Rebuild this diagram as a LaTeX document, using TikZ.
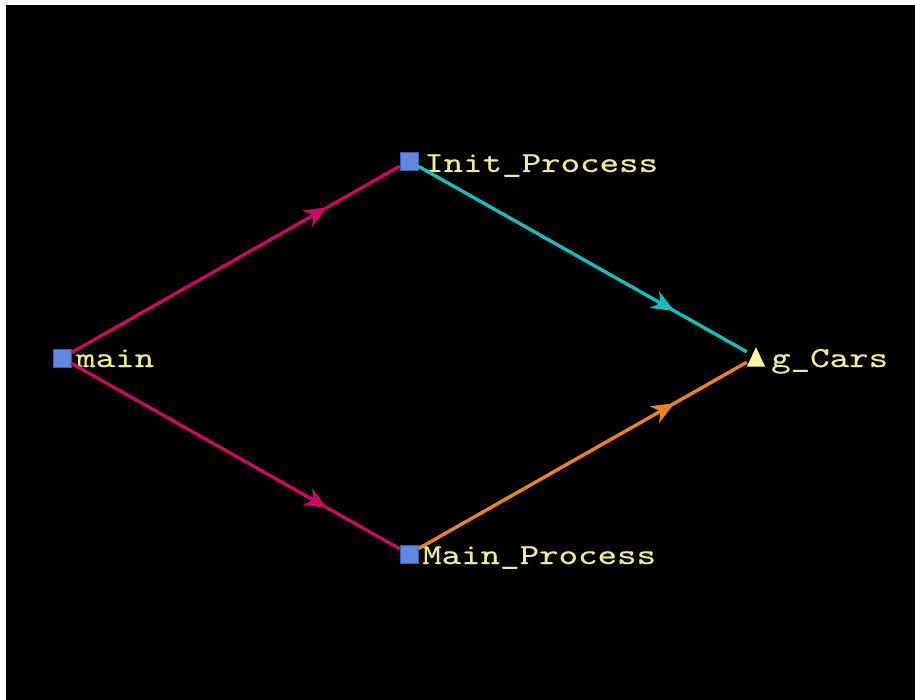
\documentclass[tikz,border=0pt]{standalone}
\usepackage{fontspec}
\newfontfamily\lblfont[FakeBold=0.3]{lmmono10-regular.otf}
\usetikzlibrary{shapes.geometric,arrows.meta,decorations.markings}
\definecolor{bgblack}{RGB}{0,0,0}
\definecolor{sqblue}{RGB}{95,135,230}
\definecolor{txtyel}{RGB}{238,236,150}
\definecolor{edgemag}{RGB}{200,10,100}
\definecolor{edgecyan}{RGB}{30,185,190}
\definecolor{edgeorange}{RGB}{232,130,40}
\definecolor{triyel}{RGB}{250,245,160}
\tikzset{
  sq/.style={rectangle, fill=sqblue, draw=sqblue!70!black, line width=0.5pt, minimum size=18pt, inner sep=0pt},
  trianch/.style={rectangle, minimum width=18pt, minimum height=19pt, inner sep=0pt},
  lbl/.style={anchor=base west, inner sep=0pt, text=txtyel, font=\fontsize{29}{33}\selectfont\lblfont},
  flow/.style={line width=3.4pt, postaction={decorate},
    decoration={markings, mark=at position 0.78 with {\arrow{Stealth[length=23pt,width=19pt,inset=7pt]}}}}
}
\newcommand{\wide}[1]{\scalebox{1.28}[1]{#1}}
\begin{document}
\begin{tikzpicture}[x=1pt,y=-1pt]
\useasboundingbox (0,0) rectangle (915,700);
\fill[white] (0,0) rectangle (915,700);
\fill[bgblack] (6,5) rectangle (915,700);
\node[sq] (main) at (62,358) {};
\node[sq] (init) at (409,161) {};
\node[sq] (mainp) at (409,554) {};
\node[trianch] (gcars) at (756,357) {};
\fill[triyel] (gcars.south west) -- (gcars.south east) -- (gcars.north) -- cycle;
\node[lbl] (lmain) at (76,367) {\wide{main}};
\node[lbl] (linit) at (424,172) {\wide{Init\_Process}};
\node[lbl] (lmainp) at (422,564) {\wide{Main\_Process}};
\node[lbl] (lgcars) at (771,367) {\wide{g\_Cars}};
\draw[flow, edgemag] (main) -- (init);
\draw[flow, edgemag] (main) -- (mainp);
\draw[flow, edgecyan] (init) -- (gcars);
\draw[flow, edgeorange] (mainp) -- (gcars);
\end{tikzpicture}
\end{document}
